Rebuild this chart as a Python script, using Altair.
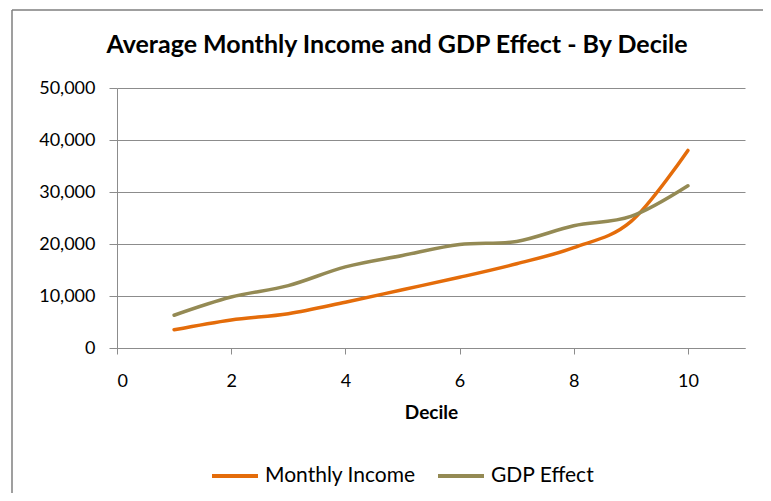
import altair as alt
import pandas as pd

chart_title = "Average Monthly Income and GDP Effect - By Decile"
decile = [1, 2, 3, 4, 5, 6, 7, 8, 9, 10]
monthly_income = [3500, 5400, 6600, 8800, 11200, 13600, 16200, 19300, 24300, 38000]
gdp_effect = [6300, 9800, 12000, 15600, 17800, 19900, 20500, 23500, 25300, 31200]
series_names = ["Monthly Income", "GDP Effect"]
series_colors = ["#E46C0A", "#948A54"]
x_ticks = [0, 2, 4, 6, 8, 10]
y_ticks = [0, 10000, 20000, 30000, 40000, 50000]

rows = []
for d, v in zip(decile, monthly_income):
    rows.append({"Decile": d, "Value": v, "Series": series_names[0]})
for d, v in zip(decile, gdp_effect):
    rows.append({"Decile": d, "Value": v, "Series": series_names[1]})
df = pd.DataFrame(rows)

FONT = "Lato"
GRAY = "#8C8C8C"

lines = alt.Chart(df).mark_line(
    interpolate="cardinal", strokeWidth=3.5, strokeCap="round"
).encode(
    x=alt.X("Decile:Q",
            scale=alt.Scale(domain=[0, 11], nice=False, zero=False),
            axis=alt.Axis(values=x_ticks, grid=False, tickSize=6, tickColor=GRAY,
                          domainColor=GRAY, labelFontSize=18, labelFont=FONT,
                          labelColor="#000000", labelPadding=18, title="Decile",
                          titleFont=FONT, titleFontSize=19, titleFontWeight="bold",
                          titleColor="#000000", titlePadding=13)),
    y=alt.Y("Value:Q",
            scale=alt.Scale(domain=[0, 50000], nice=False),
            axis=alt.Axis(values=y_ticks, format=",.0f", grid=True, gridColor=GRAY,
                          tickSize=8, tickColor=GRAY, domainColor=GRAY,
                          labelFontSize=18, labelFont=FONT, labelColor="#000000",
                          labelPadding=14, title=None)),
    color=alt.Color("Series:N",
                    scale=alt.Scale(domain=series_names, range=series_colors),
                    sort=series_names,
                    legend=alt.Legend(orient="none", legendX=93, legendY=363,
                                      direction="horizontal", title=None,
                                      symbolType="stroke", symbolSize=2116,
                                      symbolStrokeWidth=4, labelFont=FONT,
                                      labelFontSize=21, labelColor="#000000",
                                      labelOffset=5, columnPadding=14, padding=0)),
)

one = pd.DataFrame({"k": [0]})

border_top = alt.Chart(one).mark_rule(stroke="#7F7F7F", strokeWidth=1.5).encode(
    x=alt.value(-105), x2=alt.value(900), y=alt.value(-78),
)
border_left = alt.Chart(one).mark_rule(stroke="#7F7F7F", strokeWidth=1.5).encode(
    x=alt.value(-105), y=alt.value(-78), y2=alt.value(700),
)

title = alt.Chart(one).mark_text(
    text=chart_title, font=FONT, fontSize=25, fontWeight="bold", color="#000000",
    align="center", baseline="alphabetic",
).encode(x=alt.value(280), y=alt.value(-35))

chart = alt.layer(border_top, border_left, title, lines).properties(
    width=628, height=260,
    padding={"left": 109, "top": 80, "right": 18, "bottom": 145},
    autosize=alt.AutoSizeParams(type="none"),
).configure_view(stroke=None)

chart.save("out.html", embed_options={"renderer": "svg", "actions": False})
